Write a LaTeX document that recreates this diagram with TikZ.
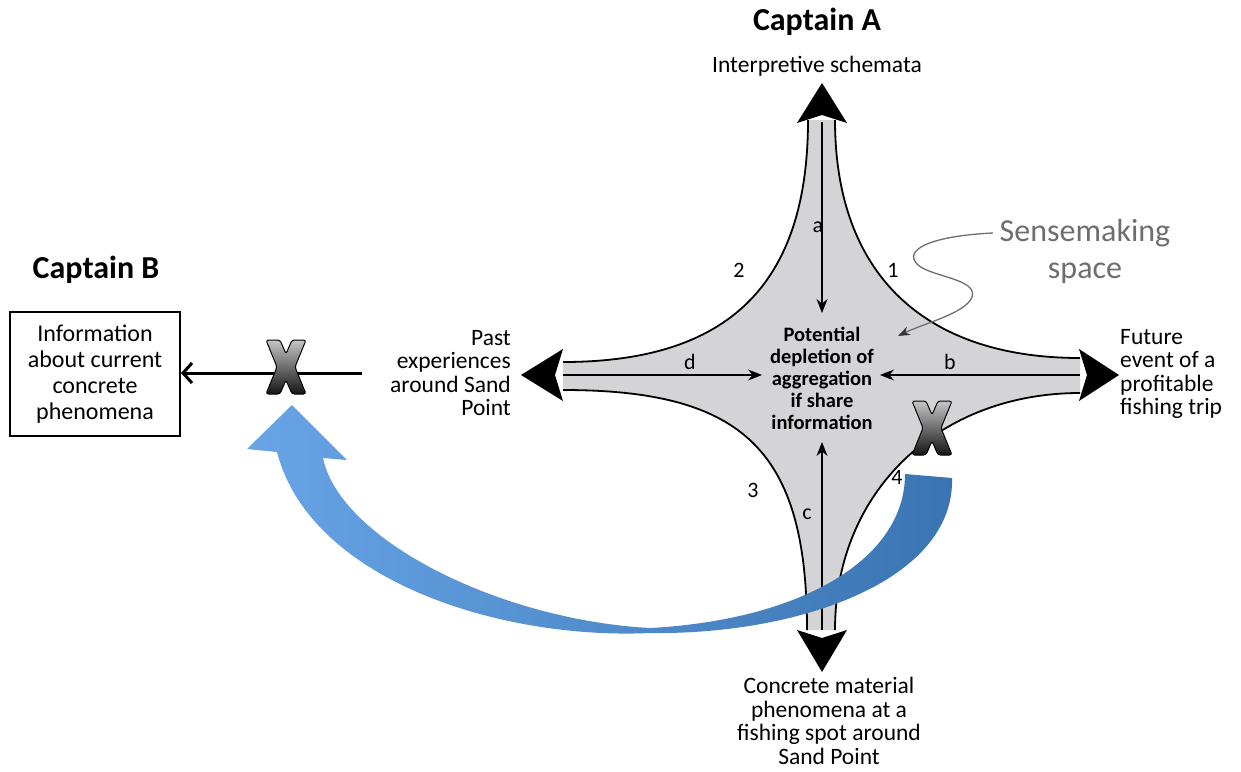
\documentclass[tikz,border=0pt]{standalone}
\usepackage{fontspec}
\setmainfont{Carlito}
\usetikzlibrary{arrows.meta}
\definecolor{starfill}{RGB}{212,212,214}
\definecolor{pointergray}{RGB}{110,110,110}
\definecolor{flowL}{RGB}{104,164,230}
\definecolor{flowM}{RGB}{126,170,222}
\definecolor{flowR}{RGB}{58,116,178}
\tikzset{
  lbl/.style={inner sep=0pt, font=\fontsize{23.5}{23.5}\selectfont},
  title/.style={inner sep=0pt, font=\fontsize{32}{36}\selectfont\bfseries},
  tag/.style={inner sep=0pt, font=\fontsize{22}{22}\selectfont},
  edge/.style={line width=1.8pt, draw=black},
  inarrow/.style={line width=1.3pt, -{Stealth[length=14pt,width=11pt]}},
  crossmark/.pic={
    \draw[line width=1pt, rounded corners=2.5pt, top color=gray!45, bottom color=black!92, draw=black]
      (-20,-27) -- (-6,-27) -- (0,-13) -- (6,-27) -- (20,-27) -- (9,0) -- (20,27) -- (6,27)
      -- (0,13) -- (-6,27) -- (-20,27) -- (-9,0) -- cycle;
  }
}
\begin{document}
\begin{tikzpicture}[x=1pt,y=-1pt]
\useasboundingbox (0,0) rectangle (1241,771);
\fill[white] (0,0) rectangle (1241,771);

% arm ends of the star
\coordinate (tL) at (808,120);  \coordinate (tR) at (835,120);
\coordinate (lT) at (563,362);  \coordinate (lB) at (563,390);
\coordinate (bL) at (807,630);  \coordinate (bR) at (835,630);
\coordinate (rT) at (1080,358); \coordinate (rB) at (1080,393);
\coordinate (topend) at (822,122);  \coordinate (botend) at (822,630);
\coordinate (leftend) at (563,375); \coordinate (rightend) at (1080,375);

% sensemaking space
\fill[starfill] (tL) .. controls (808,285) and (728,362) .. (lT) -- (lB)
  .. controls (743,390) and (807,450) .. (bL) -- (bR)
  .. controls (835,490) and (940,393) .. (rB) -- (rT)
  .. controls (925,358) and (835,275) .. (tR) -- cycle;
\draw[edge] (tL) .. controls (808,285) and (728,362) .. (lT);
\draw[edge] (lB) .. controls (743,390) and (807,450) .. (bL);
\draw[edge] (bR) .. controls (835,490) and (940,393) .. (rB);
\draw[edge] (rT) .. controls (925,358) and (835,275) .. (tR);

% central text
\node[inner sep=0pt, align=center, font=\fontsize{20.5}{22}\selectfont\bfseries] (core) at (822,378)
  {Potential\\depletion of\\aggregation\\if share\\information};

% arrows from each pole into the centre
\coordinate (aTip) at (822,313);
\coordinate (dTip) at (762,375);
\coordinate (bTip) at (880,375);
\coordinate (cTip) at (822,442);
\draw[inarrow] (topend) -- (aTip);
\draw[inarrow] (leftend) -- (dTip);
\draw[inarrow] (rightend) -- (bTip);
\draw[inarrow] (botend) -- (cTip);

% arrowheads at the four poles
\fill[black] (822,83) -- (847,123) -- (822,115) -- (797,123) -- cycle;
\fill[black] (521,375) -- (563,349) -- (555,375) -- (563,401) -- cycle;
\fill[black] (1119,375) -- (1079,349) -- (1087,375) -- (1079,401) -- cycle;
\fill[black] (822,672) -- (797,630) -- (822,638) -- (847,630) -- cycle;

% pole labels
\node[title] (capA) at (817,22) {Captain A};
\node[lbl] (interp) at (817,66) {Interpretive schemata};
\node[lbl, anchor=east, align=right] (past) at (511,373) {Past\\experiences\\around Sand\\Point};
\node[lbl, anchor=west, align=left] (future) at (1120,374) {Future\\event of a\\profitable\\fishing trip};
\node[lbl, align=center] (concrete) at (829,721) {Concrete material\\phenomena at a\\fishing spot around\\Sand Point};

% sensemaking pointer
\node[inner sep=0pt, align=center, text=pointergray, font=\fontsize{32}{37}\selectfont] (sense) at (1085,251) {Sensemaking\\space};
\coordinate (senseStart) at (993,233);
\coordinate (senseEnd) at (898,336);
\draw[pointergray, line width=1.3pt, -{Stealth[length=12pt,width=9pt,black!80]}]
  (senseStart) .. controls (930,236) and (902,250) .. (918,265)
  .. controls (932,277) and (978,279) .. (972,297)
  .. controls (966,313) and (925,323) .. (senseEnd);

% Captain B
\node[title] (capB) at (96,270) {Captain B};
\node[draw, line width=2pt, minimum width=170pt, minimum height=124pt, inner sep=0pt, align=center,
  font=\fontsize{24}{26}\selectfont] (info) at (95,374)
  {Information\\about current\\concrete\\phenomena};
\coordinate (pastOut) at (362,373);
\draw[line width=3pt, -{Straight Barb[length=9pt,width=20pt]}] (pastOut) -- (info.east |- pastOut);
\pic at (286,367) {crossmark};

% curved flow arrow
\shade[left color=flowL, middle color=flowM, right color=flowR]
  (905,474) -- (952,478)
  .. controls (955,580) and (800,635) .. (650,633)
  .. controls (500,640) and (310,580) .. (277,452)
  -- (247,449) -- (292,405) -- (347,460) -- (323,458)
  .. controls (340,540) and (500,620) .. (650,628)
  .. controls (800,620) and (905,560) .. (905,474) -- cycle;

\pic at (932,428) {crossmark};

% curve and path tags
\node[tag] (n1) at (893,270) {1};
\node[tag] (n2) at (739,270) {2};
\node[tag] (n3) at (753,490) {3};
\node[tag] (n4) at (897,477) {4};
\node[tag] (la) at (818,227) {a};
\node[tag] (lb) at (950,362) {b};
\node[tag] (lc) at (807,514) {c};
\node[tag] (ld) at (690,362) {d};
\end{tikzpicture}
\end{document}
